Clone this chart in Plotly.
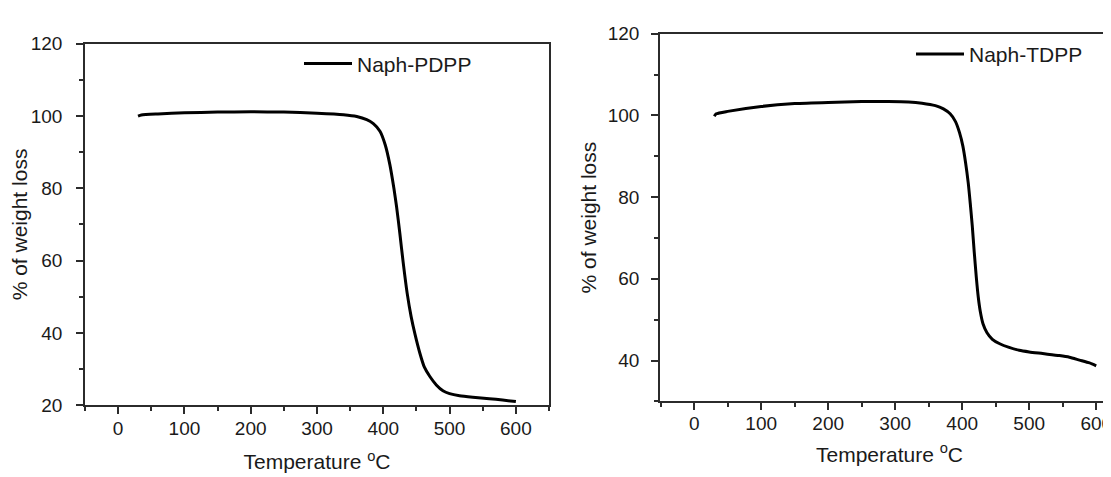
import plotly.graph_objects as go

# ---- data ----
temp_pdpp = [30, 35, 60, 100, 150, 200, 250, 300, 340, 360, 375, 385, 395, 403, 410,
             416, 420, 425, 430, 436, 442, 448, 455, 462, 470, 480, 490, 500, 515,
             535, 560, 580, 600]
wt_pdpp = [100.0, 100.3, 100.6, 100.9, 101.1, 101.2, 101.1, 100.8, 100.4, 99.9, 99.0,
           97.9, 95.8, 92.0, 86.5, 80.0, 75.0, 67.5, 59.5, 51.0, 44.5, 39.5, 34.5,
           30.5, 28.0, 25.6, 24.0, 23.2, 22.6, 22.2, 21.8, 21.4, 21.0]

temp_tdpp = [30, 33, 50, 100, 150, 200, 250, 290, 320, 340, 360, 372, 382, 390, 396,
             401, 405, 409, 412, 415, 418, 421, 424, 427, 431, 437, 445, 456, 470,
             485, 500, 520, 545, 560, 575, 590, 600]
wt_tdpp = [99.8, 100.4, 101.0, 102.2, 102.9, 103.2, 103.4, 103.4, 103.3, 103.0, 102.4,
           101.6, 100.4, 98.5, 95.8, 92.5, 88.5, 83.5, 78.5, 73.0, 66.5, 60.5, 55.5,
           52.0, 49.0, 46.8, 45.2, 44.1, 43.2, 42.5, 42.1, 41.7, 41.2, 40.8, 40.1,
           39.4, 38.7]

series_names = ["Naph-PDPP", "Naph-TDPP"]
x_title = "Temperature <sup>o</sup>C"
y_title = "% of weight loss"

W, H = 1111, 477
FONT = "Liberation Sans, Arial, Helvetica, sans-serif"
AX = "#2b2b2b"
TXT = "#1a1a1a"


def px_x(p):
    return p / W


def px_y(p):
    return 1 - p / H


def axis(**kw):
    base = dict(
        showline=True, linecolor=AX, linewidth=1.6,
        ticks="outside", ticklen=7, tickwidth=1.5, tickcolor=AX,
        showgrid=False, zeroline=False,
        tickfont=dict(family=FONT, size=19, color=TXT),
        title_font=dict(family=FONT, size=21, color=TXT),
    )
    base.update(kw)
    return base


fig = go.Figure()
fig.add_trace(go.Scatter(
    x=temp_pdpp, y=wt_pdpp, mode="lines", name=series_names[0], showlegend=True,
    line=dict(color="black", width=3, shape="spline", smoothing=0.6),
    xaxis="x", yaxis="y", legend="legend"))
fig.add_trace(go.Scatter(
    x=temp_tdpp, y=wt_tdpp, mode="lines", name=series_names[1], showlegend=True,
    line=dict(color="black", width=3, shape="spline", smoothing=0.6),
    xaxis="x2", yaxis="y2", legend="legend2"))

fig.update_layout(
    width=W, height=H,
    showlegend=True,
    margin=dict(l=0, r=0, t=0, b=0),
    paper_bgcolor="white", plot_bgcolor="white",
    font=dict(family=FONT, color=TXT),
    xaxis=axis(domain=[px_x(77), px_x(541)], range=[-50, 650], dtick=100, tick0=0,
               mirror=True, anchor="y", ticklabelstandoff=-2,
               minor=dict(ticks="outside", ticklen=4, tickwidth=1.5, tickcolor=AX, dtick=50, tick0=0),
               title=dict(text=x_title, standoff=17)),
    yaxis=axis(domain=[px_y(405), px_y(27)], range=[20, 120], dtick=20, tick0=0,
               mirror=True, anchor="x", ticklabelstandoff=10,
               minor=dict(ticks="outside", ticklen=4, tickwidth=1.5, tickcolor=AX, dtick=10, tick0=0),
               title=dict(text=y_title, standoff=3)),
    xaxis2=axis(domain=[px_x(652), 1.0], range=[-51, 634], dtick=100, tick0=0,
                mirror=True, anchor="y2", ticklabelstandoff=-3,
                minor=dict(ticks="outside", ticklen=4, tickwidth=1.5, tickcolor=AX, dtick=50, tick0=0),
                title=dict(text=x_title, standoff=14)),
    yaxis2=axis(domain=[px_y(401), px_y(16.5)], range=[30, 120], dtick=20, tick0=0,
                mirror=False, anchor="x2", ticklabelstandoff=8,
                minor=dict(ticks="outside", ticklen=4, tickwidth=1.5, tickcolor=AX, dtick=10, tick0=0),
                title=dict(text=y_title, standoff=5)),
    legend=dict(x=px_x(291), y=px_y(48), xanchor="left", yanchor="middle",
                bgcolor="rgba(0,0,0,0)", itemwidth=48, visible=True,
                font=dict(family=FONT, size=21, color=TXT)),
    legend2=dict(x=px_x(903), y=px_y(38), xanchor="left", yanchor="middle",
                 bgcolor="rgba(0,0,0,0)", itemwidth=48, visible=True,
                 font=dict(family=FONT, size=21, color=TXT)),
)

fig.write_html("out.html")
